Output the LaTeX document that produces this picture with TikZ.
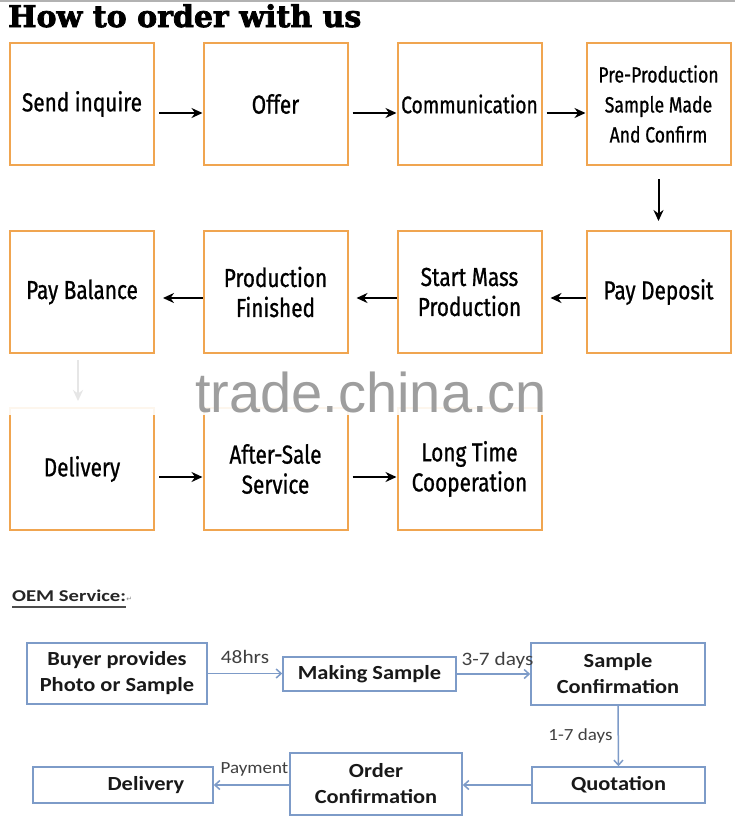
\documentclass[tikz,border=0pt]{standalone}
\usepackage{fontspec}
\usetikzlibrary{arrows.meta,calc}
\newfontfamily\handfont[FakeStretch=0.8,FakeBold=0.8]{Fira Sans}
\newfontfamily\titlefont[BoldFeatures={FakeBold=2.5}]{DejaVu Serif}
\newfontfamily\oemfont[FakeStretch=1.12]{Carlito}
\newfontfamily\oemtitlefont[FakeStretch=1.25]{Carlito}
\newfontfamily\wmfont{Liberation Sans}
\newfontfamily\symfont{DejaVu Sans}
\definecolor{boxorange}{RGB}{240,165,80}
\definecolor{oemblue}{RGB}{125,155,200}
\begin{document}
\begin{tikzpicture}[x=1pt,y=-1pt,
  stepbox/.style={draw=boxorange, line width=2pt, minimum width=144pt, minimum height=122pt,
    align=center, font=\handfont\fontsize{26}{30}\selectfont, inner sep=0pt},
  smallstep/.style={stepbox, font=\handfont\fontsize{22}{30}\selectfont},
  flow/.style={line width=2pt, -{Stealth[length=11pt,width=10pt]}},
  oembox/.style={draw=oemblue, line width=1.5pt, align=center, inner sep=0pt,
    font=\oemfont\bfseries\fontsize{20}{26}\selectfont, text=black!90},
  oemarrow/.style={draw=oemblue, line width=1.5pt, -{Straight Barb[length=5pt,width=9pt]}},
  oemlabel/.style={font=\oemfont\fontsize{19}{22}\selectfont, text=black!75, inner sep=0pt}
]
\useasboundingbox (0,0) rectangle (735,820);
\fill[white] (0,0) rectangle (735,820);
\draw[black!30, line width=2pt] (0,1) -- (735,1);

% title
\node[font=\titlefont\bfseries\fontsize{30}{32}\selectfont, anchor=base west, inner sep=0pt] (title) at (8,27) {How to order with us};

% row 1
\node[stepbox] (s1) at (82,104) {Send inquire};
\node[stepbox] (s2) at (275.5,104) {Offer};
\node[stepbox, font=\handfont\fontsize{24}{30}\selectfont] (s3) at (469.5,104) {Communication};
\node[smallstep] (s4) at (658.5,104) {Pre-Production\\Sample Made\\And Confirm};
% row 2
\node[stepbox] (s5) at (658.5,292) {Pay Deposit};
\node[stepbox] (s6) at (469.5,292) {Start Mass\\Production};
\node[stepbox] (s7) at (275.5,292) {Production\\Finished};
\node[stepbox] (s8) at (82,292) {Pay Balance};
% row 3
\node[stepbox] (s9) at (82,469) {Delivery};
\node[stepbox] (s10) at (275.5,469) {After-Sale\\Service};
\node[stepbox] (s11) at (469.5,469) {Long Time\\Cooperation};

\draw[flow, shorten <=4pt] ([yshift=-9pt]s1.east) -- ([yshift=-9pt]s2.west);
\draw[flow, shorten <=4pt] ([yshift=-9pt]s2.east) -- ([yshift=-9pt]s3.west);
\draw[flow, shorten <=4pt] ([yshift=-9pt]s3.east) -- ([yshift=-9pt]s4.west);
\draw[flow, shorten <=13pt, shorten >=9pt] (s4.south) -- (s5.north);
\draw[flow, shorten >=8pt] ([yshift=-6pt]s5.west) -- ([yshift=-6pt]s6.east);
\draw[flow, shorten >=8pt] ([yshift=-6pt]s6.west) -- ([yshift=-6pt]s7.east);
\draw[flow, shorten >=8pt] ([yshift=-6pt]s7.west) -- ([yshift=-6pt]s8.east);
\draw[flow, shorten <=6pt, shorten >=6pt] ([xshift=-4pt]s8.south) -- ([xshift=-4pt]s9.north);
\draw[flow, shorten <=4pt] ([yshift=-8pt]s9.east) -- ([yshift=-8pt]s10.west);
\draw[flow, shorten <=4pt] ([yshift=-8pt]s10.east) -- ([yshift=-8pt]s11.west);

% watermark band
\fill[white, opacity=0.9] (0,356) rectangle (560,415);
\node[font=\wmfont\fontsize{56}{56}\selectfont, text=black!38, anchor=base west, inner sep=0pt] (wm) at (195,412) {trade.china.cn};

% OEM section
\node[font=\oemtitlefont\bfseries\fontsize{16.5}{18}\selectfont, anchor=base west, inner sep=0pt, text=black!85] (oemt) at (12,601) {OEM Service:};
\draw[black!70, line width=1.5pt] ([yshift=-6pt]oemt.base west) -- ([yshift=-6pt]oemt.base east);
\node[font=\symfont\fontsize{7}{8}\selectfont, text=black!45, anchor=base west, inner sep=0pt] (ret) at (oemt.base east) {↵};

\node[oembox, minimum width=180pt, minimum height=61pt] (oa) at (117,673.5) {Buyer provides\\Photo or Sample};
\node[oembox, minimum width=173pt, minimum height=34pt] (ob) at (369.5,674) {Making Sample};
\node[oembox, minimum width=174pt, minimum height=62pt] (oc) at (618,674) {Sample\\Confirmation};
\node[oembox, minimum width=173pt, minimum height=36pt] (od) at (618.5,785) {Quotation};
\node[oembox, minimum width=172pt, minimum height=62pt] (oe) at (376,784) {Order\\Confirmation};
\node[oembox, minimum width=180pt, minimum height=36pt] (of) at (123,785) {\hspace*{46pt}Delivery};

\draw[oemarrow] (oa.east) -- (oa.east -| ob.west) node[oemlabel, midway, above=9pt] {48hrs};
\draw[oemarrow] (ob.east) -- (ob.east -| oc.west) node[oemlabel, midway, above=5pt, xshift=4pt] {3-7 days};
\draw[oemarrow] (oc.south) -- (od.north) node[oemlabel, midway, left=5pt, font=\oemfont\fontsize{17}{20}\selectfont] {1-7 days};
\draw[oemarrow] (od.west) -- (od.west -| oe.east);
\draw[oemarrow] (oe.west |- od.west) -- (of.east) node[oemlabel, midway, above=8pt, xshift=3pt, font=\oemfont\fontsize{17}{20}\selectfont] {Payment};
\end{tikzpicture}
\end{document}
